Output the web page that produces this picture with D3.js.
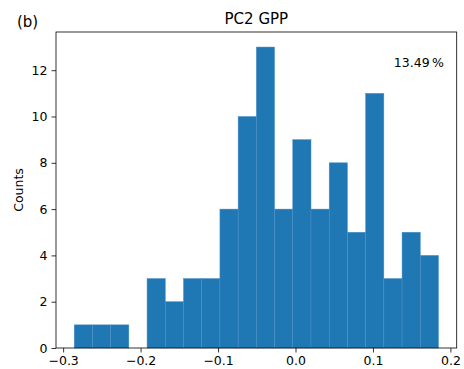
<!DOCTYPE html>
<html>
<head>
<meta charset="utf-8">
<script src="https://cdn.jsdelivr.net/npm/d3@7"></script>
<style>
  body { margin: 0; background: #fff; }
  text { font-family: "DejaVu Sans", sans-serif; fill: #000; }
</style>
</head>
<body>
<svg id="chart" width="464" height="369"></svg>
<script>
// histogram: 20 equal bins between binMin and binMax
var binMin = -0.2857;
var binMax = 0.1846;
var counts = [1, 1, 1, 0, 3, 2, 3, 3, 6, 10, 13, 6, 9, 6, 8, 5, 11, 3, 5, 4];
var xTicks = [-0.3, -0.2, -0.1, 0.0, 0.1, 0.2];
var yTicks = [0, 2, 4, 6, 8, 10, 12];

var svg = d3.select('#chart');
var plotL = 56, plotR = 456.7, plotT = 32, plotB = 348;

var binW = (binMax - binMin) / counts.length;
var bins = counts.map((c, i) => ({x0: binMin + i * binW, x1: binMin + (i + 1) * binW, n: c}));

var pad = (binMax - binMin) * 0.05;
var x = d3.scaleLinear().domain([binMin - pad, binMax + pad]).range([plotL, plotR]);
var y = d3.scaleLinear().domain([0, d3.max(counts) * 1.05]).range([plotB, plotT]);

svg.append('g')
    .selectAll('rect')
    .data(bins.filter(d => d.n > 0))
    .enter()
    .append('rect')
        .attr('x', d => x(d.x0))
        .attr('width', d => x(d.x1) - x(d.x0))
        .attr('y', d => y(d.n))
        .attr('height', d => y(0) - y(d.n))
        .attr('fill', '#1f77b4')
        .attr('stroke', '#4a90c8')
        .attr('stroke-width', 0.5)

var xAxis = svg.append('g')
    .attr('transform', `translate(0, ${plotB})`)
    .call(d3.axisBottom(x).tickValues(xTicks).tickSize(4.5).tickPadding(4)
        .tickFormat(d => d3.format('.1f')(d).replace('-', '\u2212')))
var yAxis = svg.append('g')
    .attr('transform', `translate(${plotL}, 0)`)
    .call(d3.axisLeft(y).tickValues(yTicks).tickSize(4.5).tickPadding(4))

;[xAxis, yAxis].forEach(g => {
    g.select('.domain').remove();
    g.selectAll('.tick line').attr('stroke', '#000').attr('stroke-width', 0.8);
    g.selectAll('.tick text').style('font-size', '12.5px').style('font-family', '"DejaVu Sans", sans-serif');
});

svg.append('rect')
    .attr('x', plotL).attr('y', plotT)
    .attr('width', plotR - plotL).attr('height', plotB - plotT)
    .attr('fill', 'none').attr('stroke', '#000').attr('stroke-width', 0.8)

svg.append('text')
    .attr('x', (plotL + plotR) / 2).attr('y', 24)
    .style('font-size', '15px').style('text-anchor', 'middle')
    .text('PC2 GPP')

svg.append('text')
    .attr('x', 17).attr('y', 27)
    .style('font-size', '15px')
    .text('(b)')

svg.append('text')
    .attr('transform', `translate(23, ${(plotT + plotB) / 2}) rotate(-90)`)
    .style('font-size', '12.5px').style('text-anchor', 'middle')
    .text('Counts')

svg.append('text')
    .attr('x', 444).attr('y', 67)
    .style('font-size', '12.5px').style('text-anchor', 'end')
    .text('13.49\u2009%')
</script>
</body>
</html>
